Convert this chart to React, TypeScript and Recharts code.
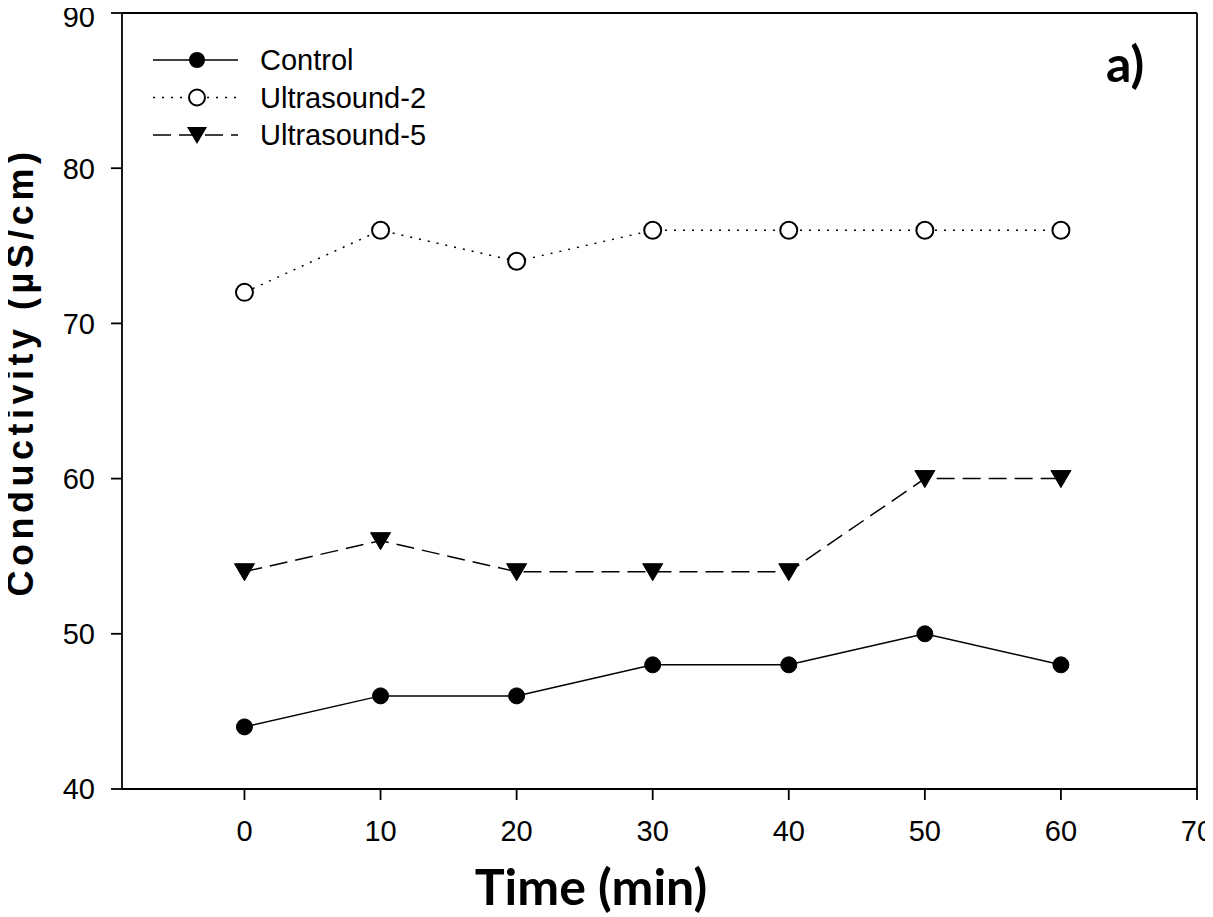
import React from "react";
import { LineChart, Line, XAxis, YAxis, Legend, ReferenceLine } from "recharts";

const times = [0, 10, 20, 30, 40, 50, 60];
const control = [44, 46, 46, 48, 48, 50, 48];
const ultrasound2 = [72, 76, 74, 76, 76, 76, 76];
const ultrasound5 = [54, 56, 54, 54, 54, 60, 60];
const xTicks = [0, 10, 20, 30, 40, 50, 60, 70];
const yTicks = [40, 50, 60, 70, 80, 90];

const data = times.map((t, i) => ({
  time: t,
  control: control[i],
  us2: ultrasound2[i],
  us5: ultrasound5[i],
}));

const FONT = "'Liberation Sans', Arial, sans-serif";
const TICK_SIZE = 29;

const XTick = (p: any) => (
  <text x={p.x} y={p.y} dy="0.72em" textAnchor="middle" fontFamily={FONT} fontSize={TICK_SIZE} fill="#000">
    {p.payload.value}
  </text>
);
const YTick = (p: any) => {
  // keep the label's box inside the picture
  const baseline = Math.max(p.y + TICK_SIZE * 0.36, TICK_SIZE * 0.92);
  return (
    <text x={p.x} y={baseline} textAnchor="end" fontFamily={FONT} fontSize={TICK_SIZE} fill="#000">
      {p.payload.value}
    </text>
  );
};

const FilledDot = (p: any) => <circle key={p.index} cx={p.cx} cy={p.cy} r={8} fill="#000" stroke="#000" strokeWidth={1} />;
const OpenDot = (p: any) => <circle key={p.index} cx={p.cx} cy={p.cy} r={8.5} fill="#fff" stroke="#000" strokeWidth={2} />;
const TriDot = (p: any) => (
  <polygon
    key={p.index}
    points={`${p.cx - 10},${p.cy - 8} ${p.cx + 10},${p.cy - 8} ${p.cx},${p.cy + 9}`}
    fill="#000"
    stroke="#000"
    strokeWidth={1}
  />
);

const legendItems = [
  { name: "Control", dash: undefined as string | undefined, marker: "filled" },
  { name: "Ultrasound-2", dash: "2 7", marker: "open" },
  { name: "Ultrasound-5", dash: "18 8", marker: "tri" },
];

const LegendContent = () => (
  <svg width={320} height={120} style={{ display: "block" }}>
    {legendItems.map((it, i) => {
      const y = 20 + i * 37.5;
      const cx = 44;
      return (
        <g key={it.name}>
          <line x1={0} x2={85} y1={y} y2={y} stroke="#000" strokeWidth={1.5} strokeDasharray={it.dash} />
          {it.marker === "filled" && <circle cx={cx} cy={y} r={8} fill="#000" />}
          {it.marker === "open" && <circle cx={cx} cy={y} r={8} fill="#fff" stroke="#000" strokeWidth={2} />}
          {it.marker === "tri" && (
            <polygon points={`${cx - 10},${y - 8} ${cx + 10},${y - 8} ${cx},${y + 9}`} fill="#000" />
          )}
          <text x={107} y={y + 10} fontFamily={FONT} fontSize={29} fill="#000">
            {it.name}
          </text>
        </g>
      );
    })}
  </svg>
);

const YLabel = () => (
  <text
    x={33}
    y={372}
    transform="rotate(-90 33 372)"
    textAnchor="middle"
    fontFamily={FONT}
    fontWeight="bold"
    fontSize={36}
    letterSpacing={4.5}
    fill="#000"
  >
    Conductivity (µS/cm)
  </text>
);

const XLabel = () => (
  <text
    x={591}
    y={905}
    textAnchor="middle"
    fontFamily="Lato, 'Open Sans', sans-serif"
    fontWeight="bold"
    fontSize={50}
    fill="#000"
  >
    Time (min)
  </text>
);

export default function App() {
  return (
    <div style={{ position: "relative", width: 1213, height: 917, marginLeft: -8, marginTop: -8 }}>
      <LineChart width={1213} height={917} data={data} margin={{ top: 13, right: 16, bottom: 0, left: 0 }}>
        <XAxis
          dataKey="time"
          type="number"
          domain={[-9, 70]}
          ticks={xTicks}
          allowDataOverflow
          height={128}
          tickSize={11}
          tickMargin={20}
          tick={<XTick />}
          axisLine={{ stroke: "#000", strokeWidth: 1.8 }}
          tickLine={{ stroke: "#000", strokeWidth: 1.8 }}
          label={<XLabel />}
        />
        <YAxis
          type="number"
          domain={[40, 90]}
          ticks={yTicks}
          allowDataOverflow
          width={122}
          tickSize={11}
          tickMargin={16}
          tick={<YTick />}
          axisLine={{ stroke: "#000", strokeWidth: 1.8 }}
          tickLine={{ stroke: "#000", strokeWidth: 1.8 }}
          label={<YLabel />}
        />
        <ReferenceLine y={90} stroke="#000" strokeWidth={1.8} />
        <ReferenceLine x={70} stroke="#000" strokeWidth={1.8} />
        <Legend
          layout="vertical"
          align="center"
          verticalAlign="middle"
          wrapperStyle={{ position: "absolute", left: 153, top: 40, width: 320, height: 120 }}
          content={<LegendContent />}
        />
        <Line
          dataKey="control"
          name="Control"
          stroke="#000"
          strokeWidth={1.5}
          dot={FilledDot}
          activeDot={false}
          isAnimationActive={false}
        />
        <Line
          dataKey="us2"
          name="Ultrasound-2"
          stroke="#000"
          strokeWidth={1.5}
          strokeDasharray="2 7"
          dot={OpenDot}
          activeDot={false}
          isAnimationActive={false}
        />
        <Line
          dataKey="us5"
          name="Ultrasound-5"
          stroke="#000"
          strokeWidth={1.5}
          strokeDasharray="18 8"
          dot={TriDot}
          activeDot={false}
          isAnimationActive={false}
        />
      </LineChart>
      <svg
        width={1213}
        height={917}
        style={{ position: "absolute", left: 0, top: 0, pointerEvents: "none" }}
      >
        <text x={1106} y={82} fontFamily="Lato, 'Open Sans', sans-serif" fontWeight="bold" fontSize={50} fill="#000">
          a)
        </text>
      </svg>
    </div>
  );
}
